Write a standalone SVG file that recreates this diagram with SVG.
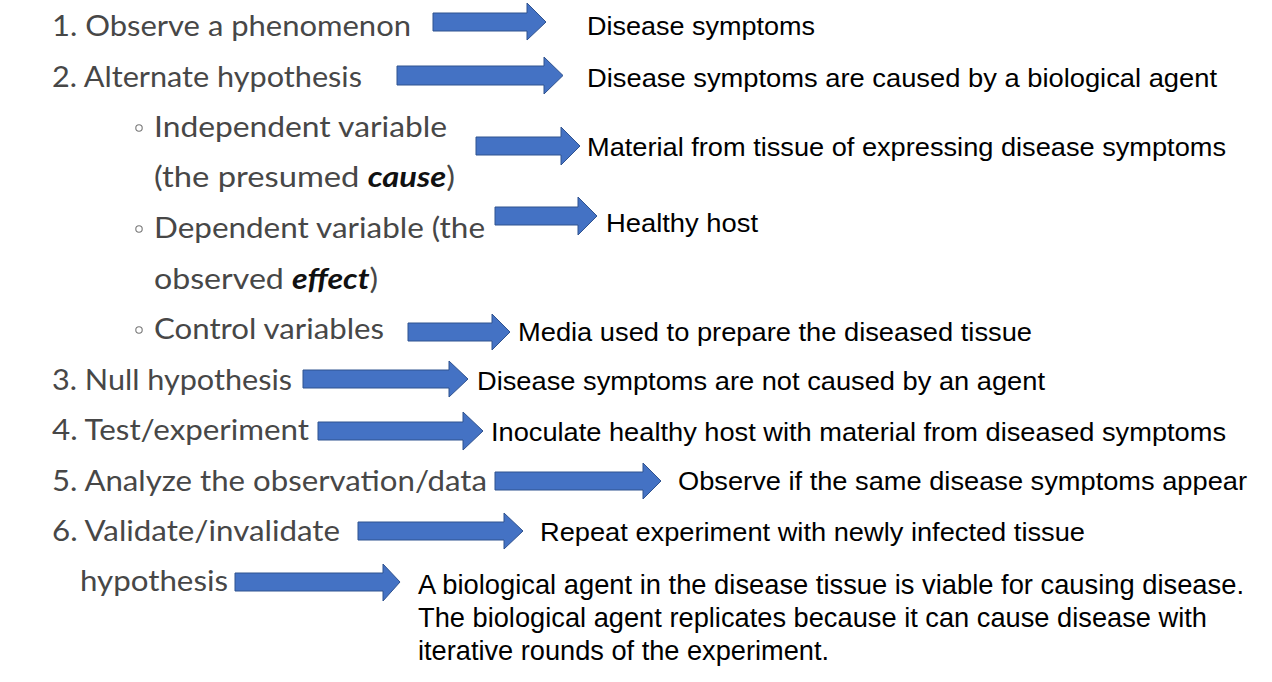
<svg xmlns="http://www.w3.org/2000/svg" width="1272" height="682" viewBox="0 0 1272 682">
<style>
.l{font-family:"Lato","Open Sans","DejaVu Sans",sans-serif;font-size:29px;font-weight:400;fill:#474747;}
.b{font-weight:bold;font-style:italic;fill:#111;}
.r{font-family:"Liberation Sans",Arial,sans-serif;font-size:26px;fill:#000;}
.n{font-size:27.5px;}
.dot{fill:none;stroke:#777;stroke-width:1.1;}
.arr{fill:#4472C4;stroke:#2F528F;stroke-width:1;}
</style>
<rect width="1272" height="682" fill="#fff"/>
<g id="left">
<g id="step1"><text class="l" x="52" y="36" textLength="359" lengthAdjust="spacingAndGlyphs">1. Observe a phenomenon</text></g>
<g id="step2"><text class="l" x="52" y="87" textLength="310" lengthAdjust="spacingAndGlyphs">2. Alternate hypothesis</text></g>
<g id="indep"><circle class="dot" cx="139" cy="128" r="3.2"/>
<text class="l" x="154" y="137" textLength="293" lengthAdjust="spacingAndGlyphs">Independent variable</text>
<text class="l" x="154" y="187" textLength="301" lengthAdjust="spacingAndGlyphs">(the presumed <tspan class="b">cause</tspan>)</text></g>
<g id="dep"><circle class="dot" cx="139" cy="229" r="3.2"/>
<text class="l" x="154" y="238" textLength="331" lengthAdjust="spacingAndGlyphs">Dependent variable (the</text>
<text class="l" x="154" y="289" textLength="224" lengthAdjust="spacingAndGlyphs">observed <tspan class="b">effect</tspan>)</text></g>
<g id="control"><circle class="dot" cx="139" cy="330" r="3.2"/>
<text class="l" x="154" y="339" textLength="230" lengthAdjust="spacingAndGlyphs">Control variables</text></g>
<g id="step3"><text class="l" x="52" y="390" textLength="240" lengthAdjust="spacingAndGlyphs">3. Null hypothesis</text></g>
<g id="step4"><text class="l" x="52" y="440" textLength="257" lengthAdjust="spacingAndGlyphs">4. Test/experiment</text></g>
<g id="step5"><text class="l" x="52" y="491" textLength="435" lengthAdjust="spacingAndGlyphs">5. Analyze the observation/data</text></g>
<g id="step6"><text class="l" x="52" y="541" textLength="288" lengthAdjust="spacingAndGlyphs">6. Validate/invalidate</text>
<text class="l" x="80" y="591" textLength="148" lengthAdjust="spacingAndGlyphs">hypothesis</text></g>
</g>
<g id="right">
<g id="r1"><text class="r" x="587" y="35" textLength="228" lengthAdjust="spacingAndGlyphs">Disease symptoms</text></g>
<g id="r2"><text class="r" x="587" y="87" textLength="630" lengthAdjust="spacingAndGlyphs">Disease symptoms are caused by a biological agent</text></g>
<g id="r3"><text class="r" x="587" y="156" textLength="639" lengthAdjust="spacingAndGlyphs">Material from tissue of expressing disease symptoms</text></g>
<g id="r4"><text class="r" x="606" y="232" textLength="152" lengthAdjust="spacingAndGlyphs">Healthy host</text></g>
<g id="r5"><text class="r" x="518" y="341" textLength="514" lengthAdjust="spacingAndGlyphs">Media used to prepare the diseased tissue</text></g>
<g id="r6"><text class="r" x="477" y="390" textLength="568" lengthAdjust="spacingAndGlyphs">Disease symptoms are not caused by an agent</text></g>
<g id="r7"><text class="r" x="491" y="441" textLength="735" lengthAdjust="spacingAndGlyphs">Inoculate healthy host with material from diseased symptoms</text></g>
<g id="r8"><text class="r" x="678" y="490" textLength="569" lengthAdjust="spacingAndGlyphs">Observe if the same disease symptoms appear</text></g>
<g id="r9"><text class="r" x="540" y="541" textLength="545" lengthAdjust="spacingAndGlyphs">Repeat experiment with newly infected tissue</text></g>
<g id="r10"><text class="r n" x="418" y="594" textLength="826" lengthAdjust="spacingAndGlyphs">A biological agent in the disease tissue is viable for causing disease.</text>
<text class="r n" x="418" y="627" textLength="789" lengthAdjust="spacingAndGlyphs">The biological agent replicates because it can cause disease with</text>
<text class="r n" x="418" y="660" textLength="411" lengthAdjust="spacingAndGlyphs">iterative rounds of the experiment.</text></g>
</g>
<g id="connectors">
<path class="arr" d="M433,13 H527 V3 L546,22 L527,40 V31 H433 Z"/>
<path class="arr" d="M397,66 H544 V57 L563,75.5 L544,94 V85 H397 Z"/>
<path class="arr" d="M476,137 H561 V127 L580,146 L561,165 V155 H476 Z"/>
<path class="arr" d="M495,207 H578 V197 L597,216 L578,235 V225 H495 Z"/>
<path class="arr" d="M408,323 H492 V314 L510,332 L492,350 V341 H408 Z"/>
<path class="arr" d="M303,370 H449 V361 L468,379 L449,397 V388 H303 Z"/>
<path class="arr" d="M318,422 H463 V412 L483,431 L463,450 V440 H318 Z"/>
<path class="arr" d="M495,472 H643 V463 L661,481 L643,499 V490 H495 Z"/>
<path class="arr" d="M358,522 H504 V513 L523,531 L504,549 V540 H358 Z"/>
<path class="arr" d="M235,573 H383 V564 L400,582 L383,601 V591 H235 Z"/>
</g>
</svg>
